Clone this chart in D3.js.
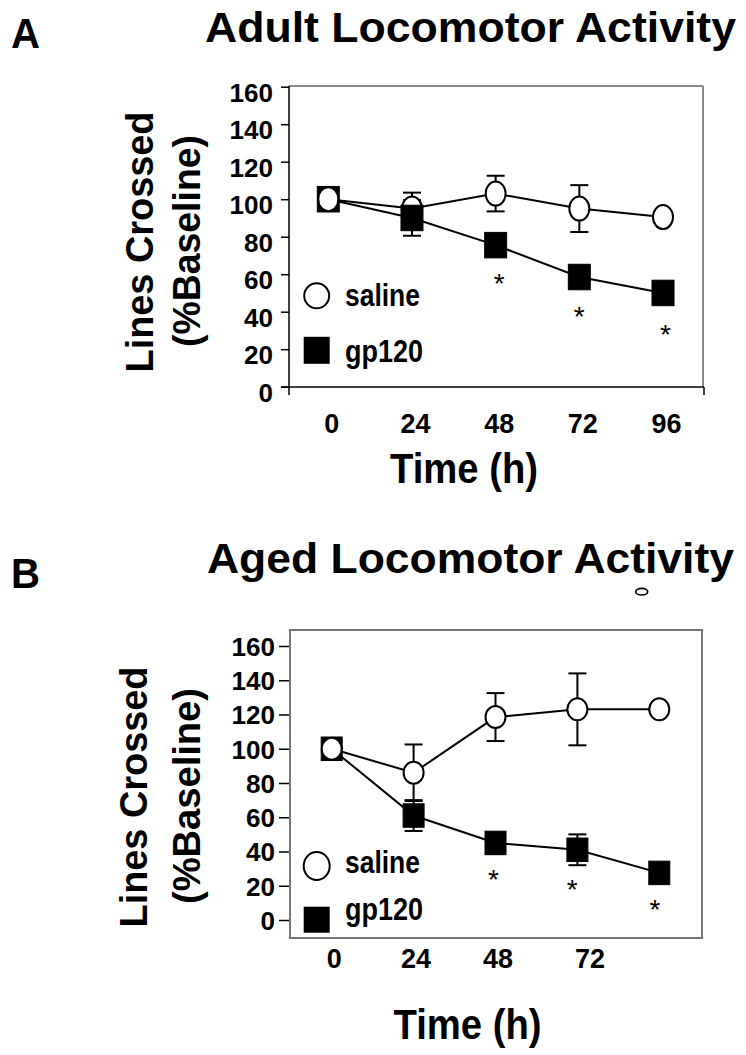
<!DOCTYPE html>
<html>
<head>
<meta charset="utf-8">
<script src="https://cdn.jsdelivr.net/npm/d3@7"></script>
<style>
  html, body { margin: 0; padding: 0; background: #fff; }
  svg { display: block; }
  text { font-family: "Liberation Sans", Arial, Helvetica, sans-serif; }
</style>
</head>
<body>
<svg id="chart" width="746" height="1055"></svg>
<script>
// ---------------- data ----------------
const times = [0, 24, 48, 72, 96];
const yTicks = [0, 20, 40, 60, 80, 100, 120, 140, 160];
const adultXTicks = [0, 24, 48, 72, 96];
const agedXTicks = [0, 24, 48, 72];

const adultSaline = [100, 95, 103, 95, 90.5];
const adultSalineErr = [0, 8.5, 9.5, 12.5, 0];
const adultGp120 = [100, 90, 75.5, 58.5, 50];
const adultGp120Err = [0, 9.5, 0, 0, 0];
const adultStarTimes = [49, 72, 96.7];
const adultStarValues = [58.7, 40.9, 31.3];

const agedSaline = [100, 86, 118.5, 123, 123];
const agedSalineErr = [0, 16.5, 14, 21, 0];
const agedGp120 = [100, 61, 45, 41, 27.5];
const agedGp120Err = [0, 9, 0, 9, 0];
const agedStarTimes = [47.4, 70.5, 94.7];
const agedStarValues = [27.3, 21.4, 9.7];

const seriesNames = ["saline", "gp120"];
const yTitle1 = "Lines Crossed";
const yTitle2 = "(%Baseline)";
const xTitle = "Time (h)";

// ---------------- drawing ----------------
const svg = d3.select("#chart");
const FONT = "\"Liberation Sans\", Arial, Helvetica, sans-serif";

function drawPanel(p) {
  const g = svg.append("g");
  const x = d3.scaleLinear().domain([0, 96]).range(p.xRange);
  const y = d3.scaleLinear().domain([0, 160]).range(p.yRange);

  // panel letter + title
  g.append("text").attr("x", p.letter.x).attr("y", p.letter.y)
    .attr("font-size", p.letter.size).attr("font-weight", "bold")
    .attr("textLength", 29).attr("lengthAdjust", "spacingAndGlyphs").text(p.letter.text);
  g.append("text").attr("x", p.title.x).attr("y", p.title.y)
    .attr("font-size", p.title.size).attr("font-weight", "bold")
    .attr("textLength", p.title.len).attr("lengthAdjust", "spacingAndGlyphs")
    .text(p.title.text);

  // frame
  p.frame(g, x, y);

  // y axis ticks + labels
  const ya = d3.axisLeft(y).tickValues(yTicks).tickSize(p.yTickLen).tickPadding(p.yPad);
  const yg = g.append("g").attr("transform", `translate(${p.axisX},0)`).call(ya);
  yg.select(".domain").remove();
  yg.selectAll(".tick line").attr("stroke", "#000").attr("stroke-width", 1.5);
  yg.selectAll(".tick text")
    .attr("font-family", FONT).attr("font-size", 26).attr("font-weight", "bold")
    .attr("fill", "#000")
    .attr("dy", p.yLabelDy)
    .attr("textLength", d => String(d).length * 14.5)
    .attr("lengthAdjust", "spacingAndGlyphs");

  // x axis labels
  const xa = d3.axisBottom(x).tickValues(p.xTicks).tickSize(0).tickPadding(0);
  const xg = g.append("g").attr("transform", `translate(0,${p.xLabelY})`).call(xa);
  xg.select(".domain").remove();
  xg.selectAll(".tick text")
    .attr("font-family", FONT).attr("font-size", 28).attr("font-weight", "bold")
    .attr("fill", "#000").attr("y", 0).attr("dy", "0.36em")
    .attr("textLength", d => String(d).length * 15)
    .attr("lengthAdjust", "spacingAndGlyphs")
    .attr("dx", d => p.xNudge(d));

  // axis titles
  g.append("text").attr("x", p.xTitle.x).attr("y", p.xTitle.y)
    .attr("text-anchor", "middle").attr("font-size", 43).attr("font-weight", "bold")
    .attr("textLength", 148).attr("lengthAdjust", "spacingAndGlyphs").text(xTitle);
  g.append("text")
    .attr("transform", `translate(${p.yTitle1.x},${p.yTitle1.cy}) rotate(-90)`)
    .attr("text-anchor", "middle").attr("font-size", 38).attr("font-weight", "bold")
    .attr("textLength", p.yTitle1.len).attr("lengthAdjust", "spacingAndGlyphs").text(yTitle1);
  g.append("text")
    .attr("transform", `translate(${p.yTitle2.x},${p.yTitle2.cy}) rotate(-90)`)
    .attr("text-anchor", "middle").attr("font-size", 38).attr("font-weight", "bold")
    .attr("textLength", p.yTitle2.len).attr("lengthAdjust", "spacingAndGlyphs").text(yTitle2);

  // lines
  const line = d3.line().x((d, i) => x(times[i])).y(d => y(d));
  [p.saline, p.gp120].forEach(s => {
    g.append("path").attr("d", line(s)).attr("fill", "none")
      .attr("stroke", "#000").attr("stroke-width", 2);
  });

  // error bars
  const errs = [];
  times.forEach((t, i) => {
    if (p.salineErr[i] > 0) errs.push({ t, v: p.saline[i], e: p.salineErr[i] });
    if (p.gp120Err[i] > 0) errs.push({ t, v: p.gp120[i], e: p.gp120Err[i] });
  });
  const eg = g.append("g").attr("stroke", "#000").attr("stroke-width", 2);
  errs.forEach(d => {
    eg.append("line").attr("x1", x(d.t)).attr("x2", x(d.t))
      .attr("y1", y(d.v + d.e)).attr("y2", y(d.v - d.e));
    [d.v + d.e, d.v - d.e].forEach(v => {
      eg.append("line").attr("x1", x(d.t) - 9).attr("x2", x(d.t) + 9)
        .attr("y1", y(v)).attr("y2", y(v));
    });
  });

  // markers: square at t=0 first, then circles, then remaining squares
  const sq = p.sq, ci = p.ci;
  const drawSquare = (t, v) => g.append("rect")
    .attr("x", x(t) - sq.w / 2).attr("y", y(v) - sq.h / 2)
    .attr("width", sq.w).attr("height", sq.h)
    .attr("fill", "#000").attr("stroke", "#000").attr("stroke-width", 1);
  drawSquare(times[0], p.gp120[0]);
  times.forEach((t, i) => {
    g.append("ellipse").attr("cx", x(t)).attr("cy", y(p.saline[i]))
      .attr("rx", ci.rx).attr("ry", ci.ry)
      .attr("fill", "#fff").attr("stroke", "#000").attr("stroke-width", 2);
  });
  times.forEach((t, i) => { if (i > 0) drawSquare(t, p.gp120[i]); });

  // significance asterisks
  p.starTimes.forEach((t, i) => {
    g.append("text").attr("x", x(t)).attr("y", y(p.starValues[i]) + 16)
      .attr("text-anchor", "middle").attr("font-size", 28).attr("font-weight", "normal")
      .text("*");
  });

  // legend
  const L = p.legend;
  g.append("ellipse").attr("cx", L.cx).attr("cy", L.c1y).attr("rx", L.crx).attr("ry", L.cry)
    .attr("fill", "#fff").attr("stroke", "#000").attr("stroke-width", 2);
  g.append("text").attr("x", L.tx).attr("y", L.t1y).attr("font-size", 31).attr("font-weight", "bold")
    .attr("textLength", 75).attr("lengthAdjust", "spacingAndGlyphs").text(seriesNames[0]);
  g.append("rect").attr("x", L.cx - L.sw / 2).attr("y", L.s2y - L.sh / 2)
    .attr("width", L.sw).attr("height", L.sh).attr("fill", "#000");
  g.append("text").attr("x", L.tx).attr("y", L.t2y).attr("font-size", 31).attr("font-weight", "bold")
    .attr("textLength", 78).attr("lengthAdjust", "spacingAndGlyphs").text(seriesNames[1]);

  if (p.extra) p.extra(g);
}

// Panel A — adult
drawPanel({
  letter: { text: "A", x: 11, y: 48, size: 42 },
  title: { text: "Adult Locomotor Activity", x: 205, y: 42, size: 43, len: 531 },
  xRange: [328.3, 663], yRange: [386.7, 86.7],
  axisX: 289, yTickLen: 8, yPad: 8, yLabelDy: "0.55em",
  xTicks: adultXTicks, xLabelY: 423, xNudge: () => 3,
  xTitle: { x: 464, y: 483 },
  yTitle1: { x: 153, cy: 242, len: 261 },
  yTitle2: { x: 200, cy: 241, len: 212 },
  saline: adultSaline, salineErr: adultSalineErr,
  gp120: adultGp120, gp120Err: adultGp120Err,
  starTimes: adultStarTimes, starValues: adultStarValues,
  sq: { w: 22, h: 25.5 }, ci: { rx: 10, ry: 12 },
  legend: { cx: 316.7, c1y: 295.8, crx: 12.5, cry: 12.5, tx: 345, t1y: 306,
            s2y: 350.3, sw: 26, sh: 27, t2y: 362 },
  frame: (g, x, y) => {
    g.append("line").attr("x1", 289).attr("x2", 703).attr("y1", 86).attr("y2", 86)
      .attr("stroke", "#888").attr("stroke-width", 2);
    g.append("line").attr("x1", 703).attr("x2", 703).attr("y1", 86).attr("y2", 387)
      .attr("stroke", "#888").attr("stroke-width", 2);
    g.append("line").attr("x1", 289).attr("x2", 289).attr("y1", 86).attr("y2", 395)
      .attr("stroke", "#000").attr("stroke-width", 1.5);
    g.append("line").attr("x1", 281).attr("x2", 704).attr("y1", 387).attr("y2", 387)
      .attr("stroke", "#000").attr("stroke-width", 1.5);
    g.append("line").attr("x1", 704).attr("x2", 704).attr("y1", 387).attr("y2", 395)
      .attr("stroke", "#000").attr("stroke-width", 1.5);
  }
});

// Panel B — aged
drawPanel({
  letter: { text: "B", x: 11, y: 588, size: 42 },
  title: { text: "Aged Locomotor Activity", x: 207, y: 573, size: 43, len: 527 },
  xRange: [331.7, 659.3], yRange: [920, 646],
  axisX: 289, yTickLen: 10, yPad: 4, yLabelDy: "0.36em",
  xTicks: agedXTicks, xLabelY: 957.5, xNudge: d => (d === 72 ? 12 : 2),
  xTitle: { x: 467.5, y: 1039 },
  yTitle1: { x: 147, cy: 797, len: 261 },
  yTitle2: { x: 200, cy: 796, len: 216 },
  saline: agedSaline, salineErr: agedSalineErr,
  gp120: agedGp120, gp120Err: agedGp120Err,
  starTimes: agedStarTimes, starValues: agedStarValues,
  sq: { w: 21, h: 23.5 }, ci: { rx: 10, ry: 11 },
  legend: { cx: 316.7, c1y: 866, crx: 13, cry: 14, tx: 345, t1y: 873,
            s2y: 919.7, sw: 26, sh: 26, t2y: 920 },
  frame: (g) => {
    g.append("rect").attr("x", 290).attr("y", 630).attr("width", 412).attr("height", 308)
      .attr("fill", "none").attr("stroke", "#777").attr("stroke-width", 2);
  },
  extra: (g) => {
    g.append("ellipse").attr("cx", 641.7).attr("cy", 591.7).attr("rx", 6).attr("ry", 3.3)
      .attr("fill", "none").attr("stroke", "#000").attr("stroke-width", 1.6);
  }
});
</script>
</body>
</html>
